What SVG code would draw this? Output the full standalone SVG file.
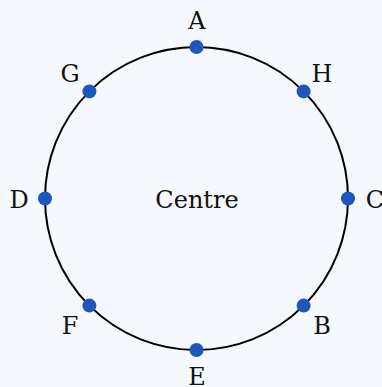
<svg xmlns="http://www.w3.org/2000/svg" width="382" height="387" viewBox="0 0 382 387">
<style>
.t{font-family:"DejaVu Serif","Liberation Serif",serif;font-size:24px;fill:#111;text-anchor:middle;dominant-baseline:central}
.d{fill:#1f57b8}
</style>
<rect width="382" height="387" fill="#f5f8fd"/>
<g id="connectors"><circle cx="196.5" cy="198.5" r="151.5" fill="none" stroke="#000" stroke-width="2"/></g>
<g id="centre"><text class="t" x="197" y="200">Centre</text></g>
<g id="A"><circle class="d" cx="196.5" cy="47" r="7"/><text class="t" x="197" y="21">A</text></g>
<g id="H"><circle class="d" cx="303.6" cy="91.4" r="7"/><text class="t" x="322" y="74">H</text></g>
<g id="C"><circle class="d" cx="348" cy="198.5" r="7"/><text class="t" x="375" y="200">C</text></g>
<g id="B"><circle class="d" cx="303.6" cy="305.6" r="7"/><text class="t" x="322" y="326">B</text></g>
<g id="E"><circle class="d" cx="196.5" cy="350" r="7"/><text class="t" x="197" y="377">E</text></g>
<g id="F"><circle class="d" cx="89.4" cy="305.6" r="7"/><text class="t" x="70" y="326">F</text></g>
<g id="D"><circle class="d" cx="45" cy="198.5" r="7"/><text class="t" x="19" y="200">D</text></g>
<g id="G"><circle class="d" cx="89.4" cy="91.4" r="7"/><text class="t" x="70" y="74">G</text></g>
</svg>
